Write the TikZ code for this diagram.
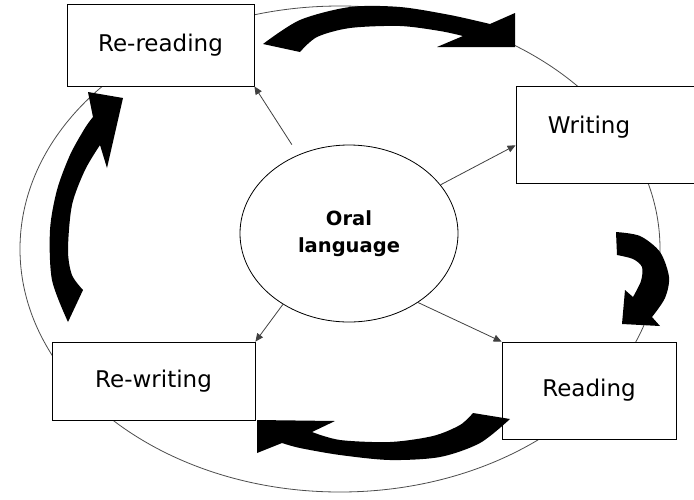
\documentclass[tikz,border=0pt]{standalone}
\usepackage{fontspec}
\setmainfont{DejaVu Sans}
\usetikzlibrary{arrows.meta,shapes.geometric,calc}
\begin{document}
\begin{tikzpicture}[x=1pt,y=-1pt,
  stagebox/.style={draw=black,line width=0.8pt,fill=white,inner sep=0pt,font=\fontsize{23}{27}\selectfont},
  conn/.style={draw=black!75,line width=0.8pt,-{Triangle[length=8pt,width=7pt]}},
  bigarrow/.style={fill=black},
  outer/.style={draw=black!70,line width=0.8pt,ellipse,inner sep=0pt}]
\useasboundingbox (0,0) rectangle (694,499);
% big surrounding ellipse
\node[outer,minimum width=640pt,minimum height=486pt] (cycle) at (340,249) {};
% boxes
\node[stagebox,minimum width=187pt,minimum height=82pt] (rr) at (160.5,45) {Re-reading};
\node[stagebox,minimum width=184pt,minimum height=97pt] (wr) at (608,134.5) {};
\node[font=\fontsize{23}{27}\selectfont,inner sep=0pt] (wrtext) at (589,127) {Writing};
\node[stagebox,minimum width=174pt,minimum height=97pt] (rd) at (589,390.5) {Reading};
\node[stagebox,minimum width=203pt,minimum height=78pt] (rw) at (153.5,381) {Re-writing};
% central ellipse
\node[draw=black,line width=0.8pt,ellipse,fill=white,inner sep=0pt,minimum width=218pt,minimum height=177pt,
      align=center,font=\fontsize{19.5}{27}\selectfont\bfseries] (oral) at (349,233.5) {Oral\\language};
% thin connectors
\draw[conn,shorten <=12pt] (oral) -- (rr.south east);
\draw[conn] (oral.28) -- ($(wr.south west)!0.39!(wr.north west)$);
\draw[conn] (oral.-45.5) -- (rd.north west);
\draw[conn] (oral.-133.5) -- (rw.north east);
% thick curved arrows
\fill[bigarrow] plot[smooth] coordinates {(263,44) (300,20) (350,7) (400,7) (450,15) (490,24)}
  -- (515,13) -- (515,47) -- (437,47) --
  plot[smooth] coordinates {(463,36) (440,31) (400,26) (350,28) (317,37) (300,52)} -- cycle;
\fill[bigarrow] plot[smooth] coordinates {(616,232) (640,236) (660,252) (669,277) (665,298) (652,317)}
  -- (660,326) -- (622,324) -- (625,290) --
  plot[smooth] coordinates {(633,297) (641,281) (642,267) (633,259) (617,255)} -- cycle;
\fill[bigarrow] plot[smooth] coordinates {(510,419) (480,443) (440,457) (390,460) (340,455) (300,448) (282,443)}
  -- (257,453) -- (257,420) -- (335,421) --
  plot[smooth] coordinates {(312,432) (340,440) (390,442) (433,436) (460,425) (473,413)} -- cycle;
\fill[bigarrow] plot[smooth] coordinates {(68,322) (52,280) (50,230) (57,190) (70,155) (85,128) (93,117)}
  -- (88,92) -- (123,98) -- (107,168) --
  plot[smooth] coordinates {(100,145) (85,170) (72,205) (68,250) (72,275) (83,290)} -- cycle;
\end{tikzpicture}
\end{document}
